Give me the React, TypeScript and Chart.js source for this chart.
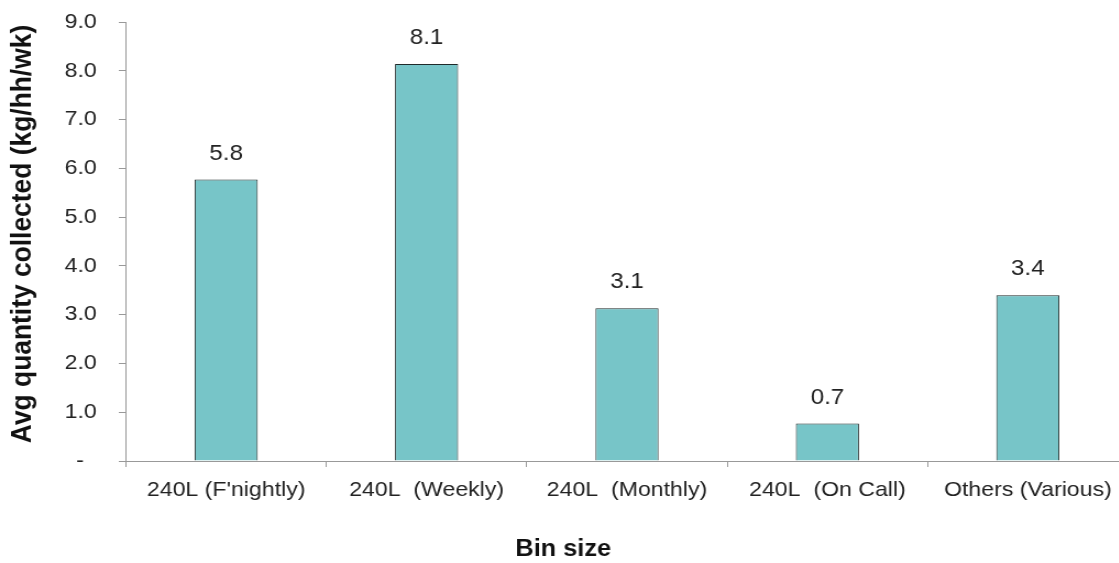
import React, { useEffect, useRef } from "react";
import { Chart, registerables } from "chart.js";

Chart.register(...registerables);

const categories = ["240L (F'nightly)", "240L  (Weekly)", "240L  (Monthly)", "240L  (On Call)", "Others (Various)"];
const values = [5.77, 8.14, 3.13, 0.77, 3.4];
const valueLabels = ["5.8", "8.1", "3.1", "0.7", "3.4"];
const yTicks = [0, 1, 2, 3, 4, 5, 6, 7, 8, 9];
const xTitle = "Bin size";
const yTitle = "Avg quantity collected (kg/hh/wk)";

const FONT = "'Liberation Sans', Arial, sans-serif";
const STRETCH = 1.1;

const textPlugin = {
  id: "customText",
  afterDatasetsDraw(chart: any) {
    const ctx = chart.ctx;
    const meta = chart.getDatasetMeta(0);
    ctx.save();
    ctx.font = `22px ${FONT}`;
    ctx.fillStyle = "#222";
    ctx.textAlign = "center";
    ctx.textBaseline = "middle";
    meta.data.forEach((bar: any, i: number) => {
      ctx.fillText(valueLabels[i], bar.x, bar.y - 26);
    });
    ctx.fillStyle = "#111";
    ctx.font = `bold 23px ${FONT}`;
    ctx.fillText(xTitle, 512, chart.height - 13.5);
    ctx.translate(21, 234);
    ctx.rotate(-Math.PI / 2);
    ctx.font = `bold 26.4px ${FONT}`;
    ctx.fillText(yTitle, 0, 0);
    ctx.restore();
  },
};

export default function App() {
  const ref = useRef<HTMLCanvasElement | null>(null);
  useEffect(() => {
    if (!ref.current) return;
    const chart = new Chart(ref.current, {
      type: "bar",
      data: {
        labels: categories,
        datasets: [
          {
            data: values,
            backgroundColor: "#77c5c8",
            borderColor: "#1f2a2a",
            borderWidth: 1,
            categoryPercentage: 1,
            barPercentage: 0.315,
          },
        ],
      },
      options: {
        animation: false,
        responsive: true,
        maintainAspectRatio: false,
        layout: { autoPadding: false, padding: { top: 22, right: 2.5, left: 0, bottom: 0 } },
        plugins: { legend: { display: false }, tooltip: { enabled: false } },
        scales: {
          x: {
            grid: { display: true, drawOnChartArea: false, tickLength: 6, color: "#999", offset: true },
            border: { display: true, color: "#999", width: 1 },
            ticks: { font: { family: FONT, size: 21 }, color: "#222", padding: 11, maxRotation: 0, autoSkip: false },
            title: { display: true, text: xTitle, font: { family: FONT, size: 22, weight: "bold" }, color: "rgba(0,0,0,0)", padding: { top: 22.4, bottom: 0 } },
          },
          y: {
            min: 0,
            max: 9,
            afterBuildTicks: (axis: any) => {
              axis.ticks = yTicks.map((v) => ({ value: v }));
            },
            afterFit: (axis: any) => {
              axis.paddingTop = 0;
              axis.paddingBottom = 0;
            },
            grid: { display: true, drawOnChartArea: false, tickLength: 6.5, color: "#999" },
            border: { display: true, color: "#999", width: 1 },
            ticks: {
              font: { family: FONT, size: 21 },
              color: "#222",
              padding: 20,
              callback: (v: any) => (Number(v) === 0 ? "-  " : Number(v).toFixed(1)),
            },
            title: { display: true, text: yTitle, font: { family: FONT, size: 26, weight: "bold" }, color: "rgba(0,0,0,0)", padding: { top: 5.4, bottom: 2.2 } },
          },
        },
      },
      plugins: [textPlugin],
    });
    return () => chart.destroy();
  }, []);
  return (
    <div style={{ position: "fixed", left: 0, top: 0, width: 1119, height: 563, overflow: "hidden", background: "#fff" }}>
      <div style={{ position: "relative", width: 1028, height: 563, transform: `scaleX(${STRETCH})`, transformOrigin: "0 0" }}>
        <canvas ref={ref} />
      </div>
    </div>
  );
}
